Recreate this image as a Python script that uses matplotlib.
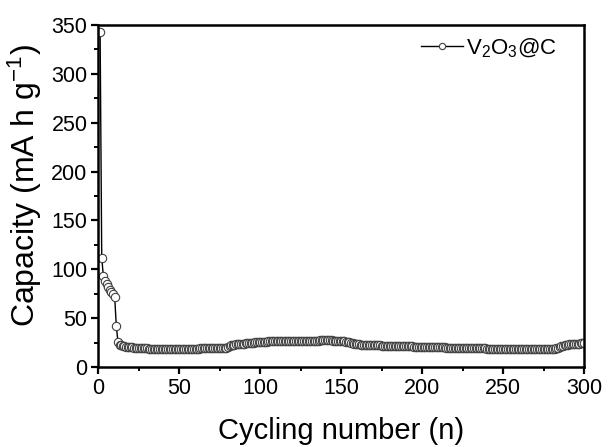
import matplotlib
matplotlib.use("Agg")
import matplotlib.pyplot as plt
from matplotlib.ticker import MultipleLocator

plt.rcParams["font.family"] = ["Liberation Sans", "DejaVu Sans"]
plt.rcParams["mathtext.default"] = "regular"

# capacity per cycle (mA h g-1), cycles 1..300
capacity = [
    343, 112, 93, 88, 85, 82, 79, 77, 75, 72,
    42, 26, 23, 22, 21.5, 21, 20.8, 20.5, 20.3, 20.1,
    20, 19.8, 19.7, 19.5, 19.4, 19.3, 19.2, 19.1, 19, 19,
    18.9, 18.9, 18.8, 18.8, 18.7, 18.7, 18.6, 18.6, 18.6, 18.5,
    18.5, 18.5, 18.4, 18.4, 18.4, 18.4, 18.5, 18.5, 18.5, 18.6,
    18.6, 18.6, 18.7, 18.7, 18.7, 18.8, 18.8, 18.8, 18.8, 18.9,
    18.9, 18.9, 19, 19, 19, 19, 19.1, 19.1, 19.1, 19.1,
    19.2, 19.2, 19.2, 19.2, 19.3, 19.3, 19.3, 19.4, 19.6, 20.2,
    21.5, 22.4, 22.8, 23, 23.2, 23.3, 23.5, 23.6, 23.8, 24,
    24.2, 24.4, 24.5, 24.7, 24.9, 25, 25.2, 25.3, 25.5, 25.6,
    25.7, 25.8, 25.9, 26, 26.1, 26.2, 26.2, 26.3, 26.3, 26.4,
    26.4, 26.5, 26.5, 26.6, 26.6, 26.6, 26.7, 26.7, 26.7, 26.7,
    26.8, 26.8, 26.8, 26.8, 26.8, 26.8, 26.8, 26.8, 26.9, 26.9,
    26.9, 26.9, 27, 27, 27.1, 27.1, 27.2, 27.2, 27.3, 27.3,
    27.3, 27.3, 27.2, 27.2, 27.1, 27, 26.9, 26.8, 26.6, 26.5,
    26.3, 26.1, 25.9, 25.6, 25.2, 24.8, 24.4, 24, 23.7, 23.4,
    23.2, 23, 22.8, 22.7, 22.6, 22.5, 22.4, 22.3, 22.2, 22.2,
    22.1, 22.1, 22, 22, 21.9, 21.9, 21.8, 21.8, 21.7, 21.7,
    21.6, 21.6, 21.5, 21.5, 21.4, 21.4, 21.3, 21.3, 21.2, 21.2,
    21.1, 21.1, 21, 21, 20.9, 20.9, 20.8, 20.8, 20.7, 20.7,
    20.6, 20.6, 20.5, 20.5, 20.4, 20.4, 20.3, 20.3, 20.2, 20.2,
    20.1, 20.1, 20, 20, 19.9, 19.9, 19.8, 19.8, 19.7, 19.7,
    19.6, 19.6, 19.5, 19.5, 19.5, 19.4, 19.4, 19.3, 19.3, 19.3,
    19.2, 19.2, 19.2, 19.1, 19.1, 19.1, 19, 19, 19, 18.9,
    18.9, 18.9, 18.8, 18.8, 18.8, 18.8, 18.7, 18.7, 18.7, 18.7,
    18.6, 18.6, 18.6, 18.6, 18.5, 18.5, 18.5, 18.5, 18.5, 18.4,
    18.4, 18.4, 18.4, 18.4, 18.3, 18.3, 18.3, 18.3, 18.3, 18.3,
    18.2, 18.2, 18.2, 18.2, 18.2, 18.2, 18.2, 18.3, 18.3, 18.4,
    18.5, 18.7, 19, 19.5, 20.2, 21, 21.7, 22.2, 22.6, 22.9,
    23.1, 23.3, 23.5, 23.6, 23.8, 23.9, 24, 24.1, 24.2, 24.3,
]
cycles = list(range(1, len(capacity) + 1))
series_label = "V$_2$O$_3$@C"

fig = plt.figure(figsize=(6.08, 4.47), dpi=100)
ax = fig.add_axes([0.162, 0.179, 0.7985, 0.765])

ax.plot(cycles, capacity, color="black", linewidth=1.0, marker="o",
        markersize=6, markerfacecolor="white", markeredgecolor="#404040",
        markeredgewidth=0.8, label=series_label)

ax.set_xlim(0, 300)
ax.set_ylim(0, 350)
ax.xaxis.set_major_locator(MultipleLocator(50))
ax.xaxis.set_minor_locator(MultipleLocator(25))
ax.yaxis.set_major_locator(MultipleLocator(50))
ax.yaxis.set_minor_locator(MultipleLocator(25))
ax.tick_params(which="major", direction="out", length=5, width=1.6, labelsize=15.5, pad=3)
ax.tick_params(which="minor", direction="out", length=3, width=1.4)
for sp in ax.spines.values():
    sp.set_linewidth(1.8)

ax.set_xlabel("Cycling number (n)", fontsize=21, labelpad=13)
ax.set_ylabel("Capacity (mA h g$^{-1}$)", fontsize=23)
ax.yaxis.set_label_coords(-0.112, 0.53)

ax.legend(loc="upper right", bbox_to_anchor=(1.0, 1.044), frameon=False,
          fontsize=16, handlelength=1.9, handletextpad=0.15, markerscale=0.75,
          borderaxespad=0.8)

fig.savefig("out.png", dpi=100)
